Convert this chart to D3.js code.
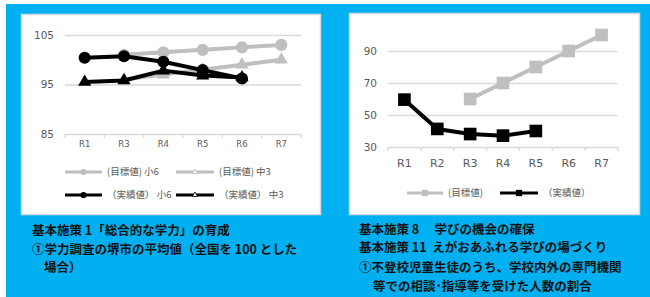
<!DOCTYPE html>
<html>
<head>
<meta charset="utf-8">
<script src="https://cdn.jsdelivr.net/npm/d3@7"></script>
<style>
  body { margin: 0; background: #fff; }
  svg { display: block; font-family: "Noto Sans CJK JP", "DejaVu Sans", sans-serif; }
  text { white-space: pre; }
</style>
</head>
<body>
<div id="chart"></div>
<script>
// left panel data
const leftCategories = ["R1", "R3", "R4", "R5", "R6", "R7"];
const leftTicks = [85, 95, 105];
const targetElem = [null, 101, 101.5, 102, 102.5, 103];
const targetJunior = [null, 96, 97, 98, 99, 100];
const actualElem = [100.4, 100.7, 99.6, 97.9, 96.2, null];
const actualJunior = [95.5, 95.8, 97.8, 96.8, 96.4, null];
const leftLegend = ["(目標値) 小6", "(目標値) 中3", "（実績値） 小6", "（実績値） 中3"];
const leftCaption = ["基本施策 1「総合的な学力」の育成", "①学力調査の堺市の平均値（全国を 100 とした", "場合）"];

// right panel data
const rightCategories = ["R1", "R2", "R3", "R4", "R5", "R6", "R7"];
const rightTicks = [30, 50, 70, 90];
const targetRate = [null, null, 60, 70, 80, 90, 100];
const actualRate = [59.6, 41.3, 38.1, 37.1, 40.0, null, null];
const rightLegend = ["(目標値)", "（実績値）"];
const rightCaption = ["基本施策 8　 学びの機会の確保", "基本施策 11  えがおあふれる学びの場づくり", "①不登校児童生徒のうち、学校内外の専門機関", "等での相談･指導等を受けた人数の割合"];

const BLUE = "#00b0f0";
const GREY = "#bfbfbf";
const BLACK = "#000";
const GRID = "#d9d9d9";
const LABEL = "#595959";

const svg = d3.select("#chart").append("svg")
    .attr("width", 650)
    .attr("height", 297);

// blue background and white chart frames
svg.append("rect").attr("x", 6).attr("y", 4).attr("width", 644).attr("height", 293).attr("fill", BLUE);
svg.append("rect").attr("x", 21.5).attr("y", 14.5).attr("width", 299).attr("height", 200)
    .attr("fill", "#fff").attr("stroke", GRID).attr("stroke-width", 1.5);
svg.append("rect").attr("x", 349.5).attr("y", 13.5).attr("width", 290).attr("height", 201)
    .attr("fill", "#fff").attr("stroke", GRID).attr("stroke-width", 1.5);

/**
 * Draws gridlines, y labels, x labels and category boundary ticks.
 */
function drawAxes(x, y, ticks, yLabelSize, xLabelSize, xLabelY) {
    const [x0, x1] = x.range();
    const g = svg.append("g");

    const yAxis = g.append("g")
        .attr("transform", `translate(${x0},0)`)
        .call(d3.axisLeft(y).tickValues(ticks).tickSize(-(x1 - x0)).tickPadding(11));
    yAxis.select(".domain").remove();
    yAxis.selectAll("line").attr("stroke", GRID).attr("stroke-width", 1.3);
    yAxis.selectAll("text")
        .attr("fill", LABEL)
        .style("font-family", "'DejaVu Sans', sans-serif")
        .style("font-size", yLabelSize + "px");

    // category boundary ticks
    const bounds = x.domain().map(c => x(c)).concat([x1]);
    g.selectAll(".btick")
        .data(bounds)
        .enter()
        .append("line")
        .attr("x1", d => d).attr("x2", d => d)
        .attr("y1", y.range()[0]).attr("y2", y.range()[0] + 4)
        .attr("stroke", GRID).attr("stroke-width", 1.3);

    const xAxis = g.append("g")
        .attr("transform", `translate(0,${xLabelY})`)
        .call(d3.axisBottom(x).tickSize(0).tickPadding(0));
    xAxis.select(".domain").remove();
    xAxis.selectAll("text")
        .attr("fill", LABEL)
        .attr("dy", "0.35em")
        .style("font-family", "'DejaVu Sans', sans-serif")
        .style("font-size", xLabelSize + "px");
}

/**
 * Draws one series as a thick line with markers.
 */
function drawSeries(x, y, cats, values, color, shape, size) {
    const pts = cats.map((c, i) => ({ c, v: values[i] })).filter(d => d.v != null);
    const cx = d => x(d.c) + x.bandwidth() / 2;

    svg.append("path")
        .datum(pts)
        .attr("fill", "none")
        .attr("stroke", color)
        .attr("stroke-width", 4)
        .attr("stroke-linejoin", "round")
        .attr("d", d3.line().x(cx).y(d => y(d.v)));

    svg.append("g").selectAll("path")
        .data(pts)
        .enter()
        .append("path")
        .attr("transform", d => `translate(${cx(d)},${y(d.v)})`)
        .attr("d", d3.symbol().type(shape).size(size))
        .attr("fill", color);
}

/**
 * Draws one legend entry: short line with a small marker and a label.
 */
function drawLegendItem(x, y, len, color, shape, size, label, hollow) {
    svg.append("line")
        .attr("x1", x).attr("x2", x + len)
        .attr("y1", y).attr("y2", y)
        .attr("stroke", color).attr("stroke-width", 3);
    svg.append("path")
        .attr("transform", `translate(${x + len / 2},${y})`)
        .attr("d", d3.symbol().type(shape).size(size))
        .attr("fill", hollow ? "#fff" : color)
        .attr("stroke", hollow ? color : "none")
        .attr("stroke-width", 0.8);
    svg.append("text")
        .attr("x", x + len + 5)
        .attr("y", y)
        .attr("dy", "0.35em")
        .attr("fill", LABEL)
        .style("font-size", "9.5px")
        .text(label);
}

/**
 * Draws the bold caption lines under a panel.
 */
function drawCaption(lines, xs, ys) {
    svg.append("g").selectAll("text")
        .data(lines)
        .enter()
        .append("text")
        .attr("x", (d, i) => xs[i])
        .attr("y", (d, i) => ys[i])
        .attr("dy", "0.35em")
        .attr("fill", "#111")
        .style("font-size", "12.5px")
        .style("font-weight", "bold")
        .text(d => d);
}

// ---- left chart ----
const xL = d3.scaleBand().domain(leftCategories).range([65, 301]);
const yL = d3.scaleLinear().domain([85, 105]).range([134, 35]);
drawAxes(xL, yL, leftTicks, 10.5, 8.5, 144);
drawSeries(xL, yL, leftCategories, targetElem, GREY, d3.symbolCircle, 115);
drawSeries(xL, yL, leftCategories, targetJunior, GREY, d3.symbolTriangle, 75);
drawSeries(xL, yL, leftCategories, actualElem, BLACK, d3.symbolCircle, 115);
drawSeries(xL, yL, leftCategories, actualJunior, BLACK, d3.symbolTriangle, 75);

drawLegendItem(65, 172, 37, GREY, d3.symbolCircle, 30, leftLegend[0], false);
drawLegendItem(176, 172, 38, GREY, d3.symbolTriangle, 12, leftLegend[1], true);
drawLegendItem(65, 195, 37, BLACK, d3.symbolCircle, 30, leftLegend[2], false);
drawLegendItem(176, 195, 38, BLACK, d3.symbolTriangle, 12, leftLegend[3], true);

drawCaption(leftCaption, [32, 32, 44], [231, 250, 268]);

// ---- right chart ----
const xR = d3.scaleBand().domain(rightCategories).range([388, 618]);
const yR = d3.scaleLinear().domain([30, 100]).range([147, 35]);
drawAxes(xR, yR, rightTicks, 10.5, 11, 163);
drawSeries(xR, yR, rightCategories, targetRate, GREY, d3.symbolSquare, 160);
drawSeries(xR, yR, rightCategories, actualRate, BLACK, d3.symbolSquare, 160);

drawLegendItem(407, 193, 36, GREY, d3.symbolSquare, 40, rightLegend[0], false);
drawLegendItem(500, 193, 38, BLACK, d3.symbolSquare, 40, rightLegend[1], false);

drawCaption(rightCaption, [359, 359, 359, 373], [230, 248, 268, 287]);
</script>
</body>
</html>
